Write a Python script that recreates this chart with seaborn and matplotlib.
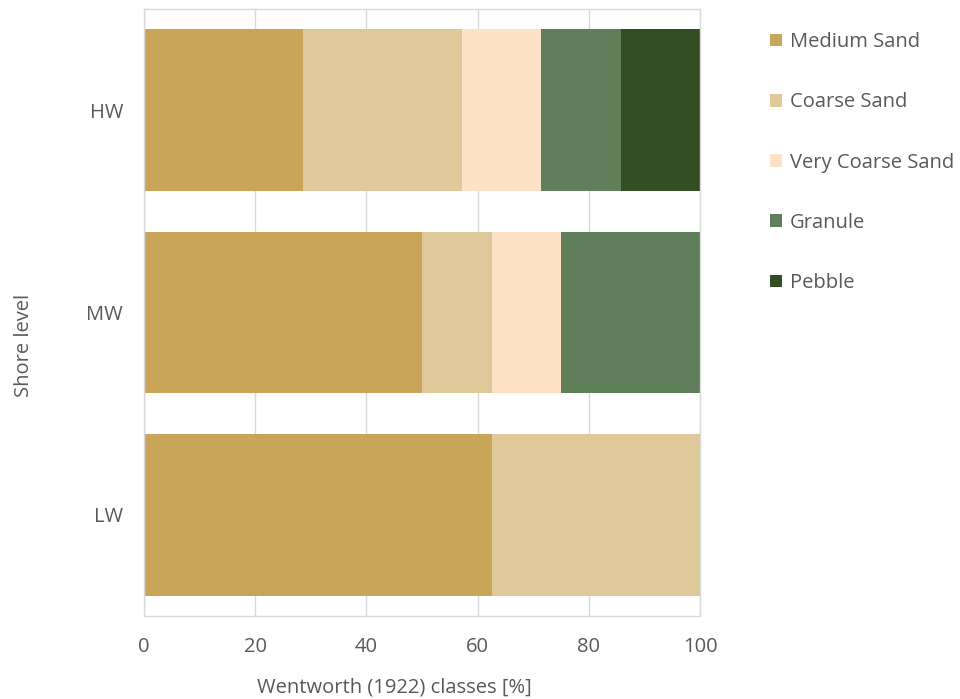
import numpy as np
import pandas as pd
import matplotlib
matplotlib.use("Agg")
import matplotlib.pyplot as plt
import seaborn as sns
from matplotlib.patches import Patch

levels = ["HW", "MW", "LW"]
classes = ["Medium Sand", "Coarse Sand", "Very Coarse Sand", "Granule", "Pebble"]
medium_sand = [28.57, 50.0, 62.5]
coarse_sand = [28.57, 12.5, 37.5]
very_coarse_sand = [14.29, 12.5, 0.0]
granule = [14.29, 25.0, 0.0]
pebble = [14.28, 0.0, 0.0]
colors = ["#C9A55A", "#DFC899", "#FDE2C6", "#5F7F5A", "#334E22"]

sns.set_theme(style="white")
plt.rcParams['font.family'] = ['Open Sans', 'DejaVu Sans']

series = [medium_sand, coarse_sand, very_coarse_sand, granule, pebble]
df = pd.DataFrame({"level": levels})
cum = np.zeros(len(levels))
for name, vals in zip(classes, series):
    cum = cum + np.array(vals)
    df[name] = cum.copy()

fig = plt.figure(figsize=(9.6, 6.99), dpi=100)
ax = fig.add_axes([144/960, 83/699, 556/960, 607/699])

for name, col in reversed(list(zip(classes, colors))):
    sns.barplot(data=df, x=name, y="level", order=levels, color=col,
                orient="h", width=0.8, ax=ax, saturation=1, linewidth=0,
                zorder=2)

FS = 14.5
ax.set_xlim(0, 100)
ax.set_ylim(2.5, -0.5)
ax.set_xticks([0, 20, 40, 60, 80, 100])
ax.grid(axis="x", color="#D9D9D9", linewidth=1, zorder=0)
ax.set_axisbelow(True)
for s in ax.spines.values():
    s.set_color("#D9D9D9")
    s.set_linewidth(1)
ax.tick_params(axis="both", length=0, labelsize=FS, colors="#595959")
ax.tick_params(axis="x", pad=15)
ax.tick_params(axis="y", pad=15)
ax.set_xlabel("Wentworth (1922) classes [%]", fontsize=FS, color="#595959", labelpad=15)
ax.set_ylabel("Shore level", fontsize=FS, color="#595959", labelpad=38)
ax.xaxis.label.set_x(0.451)
ax.yaxis.label.set_y(0.445)

handles = [Patch(facecolor=c, edgecolor="none", label=l) for l, c in zip(classes, colors)]
fig.legend(handles=handles, loc="upper left", bbox_to_anchor=(770/960, 1 - 32/699),
           frameon=False, fontsize=FS, labelcolor="#595959",
           handlelength=0.6, handleheight=0.6, handletextpad=0.4,
           labelspacing=2.0, borderaxespad=0, borderpad=0)

fig.savefig("out.png", dpi=100)
